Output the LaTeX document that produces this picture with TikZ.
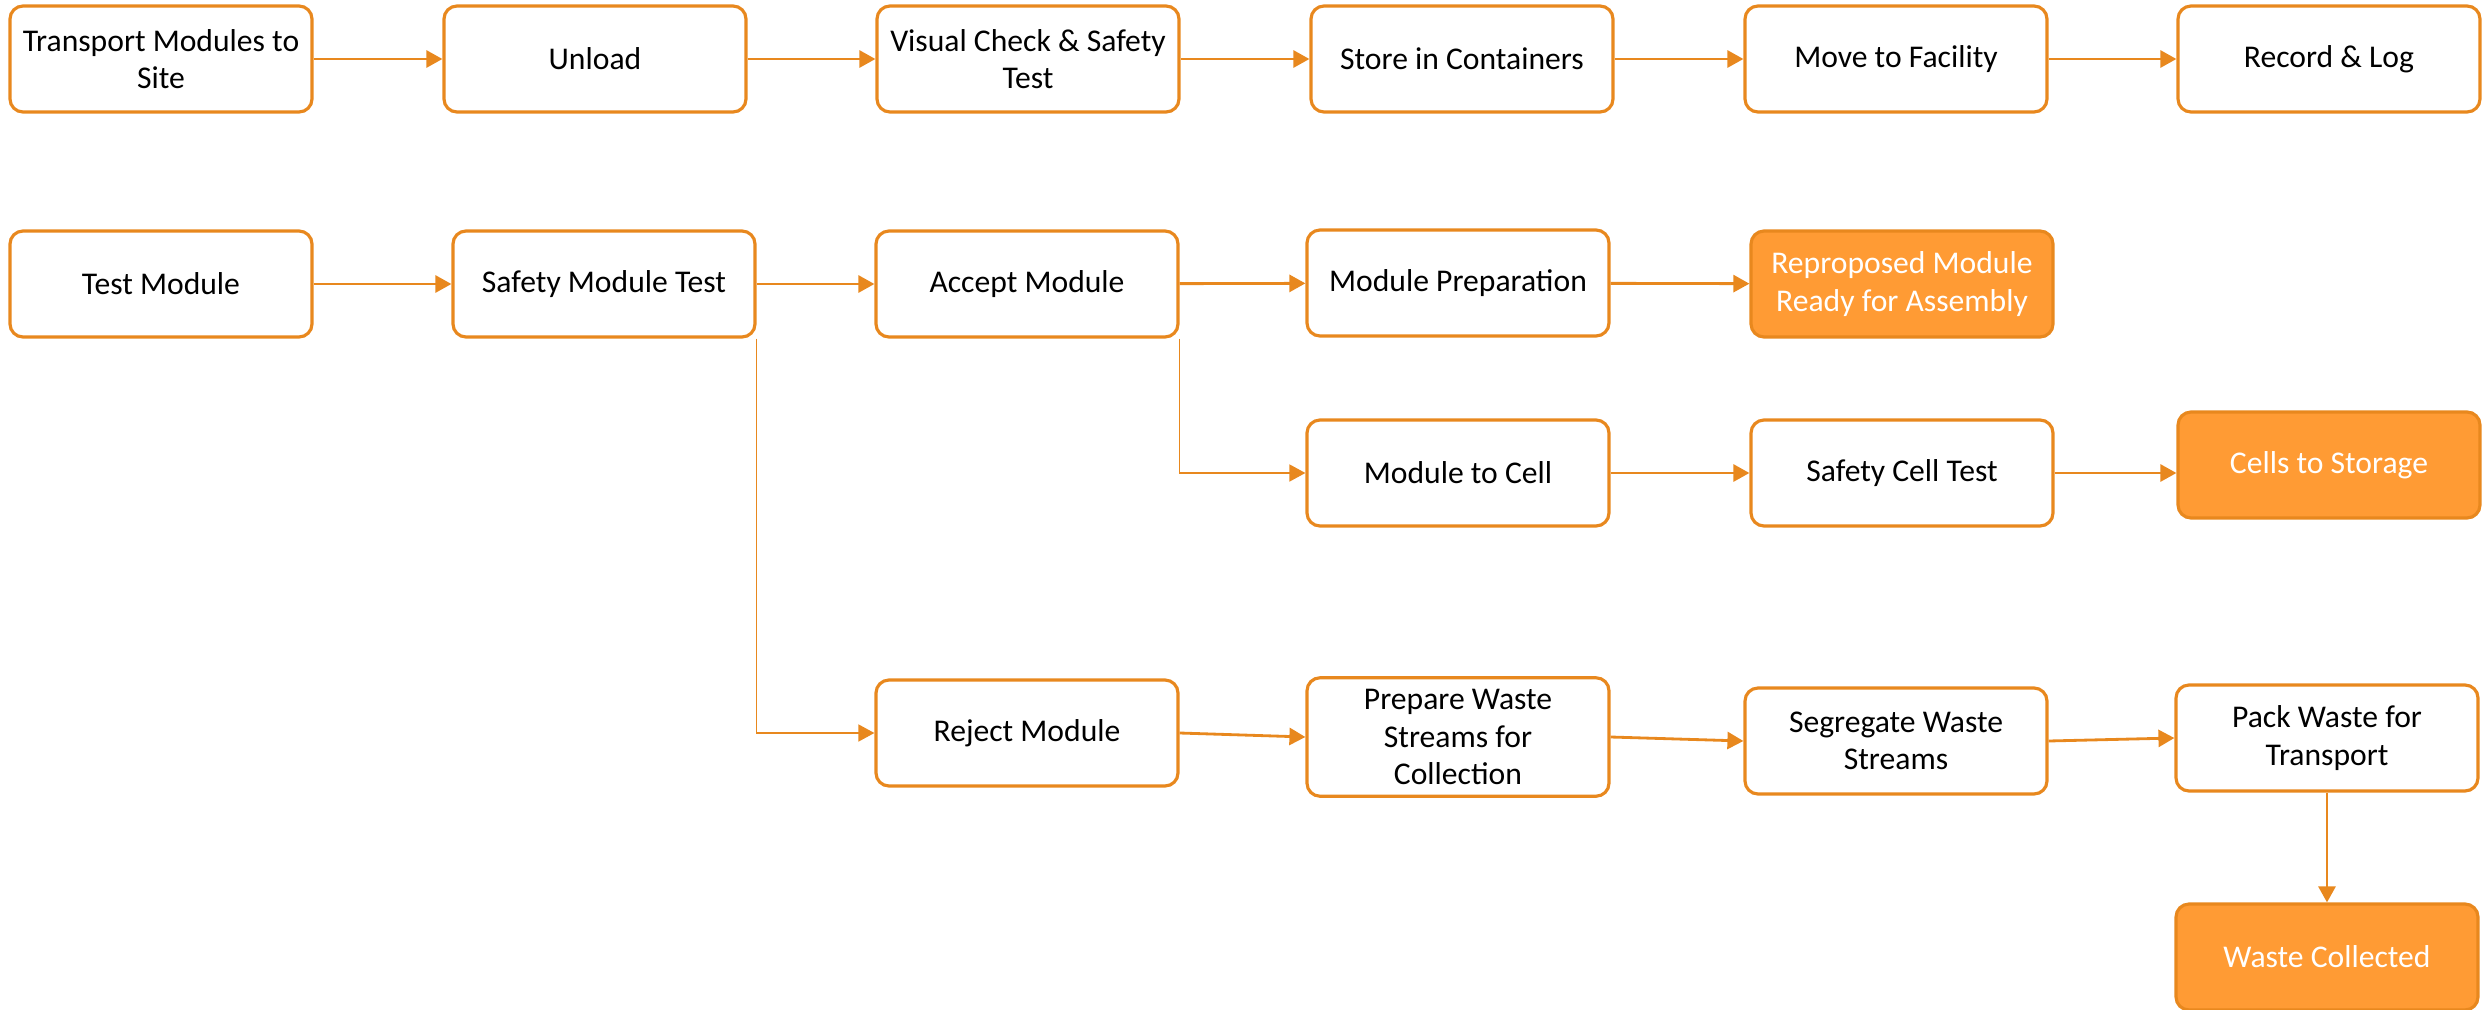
\documentclass[tikz,border=0pt]{standalone}
\usepackage{fontspec}
\setmainfont{Carlito}
\usetikzlibrary{arrows.meta, positioning}
\definecolor{lineorange}{RGB}{232, 136, 30}
\definecolor{fillorange}{RGB}{255, 155, 52}

\begin{document}
\begin{tikzpicture}[
        task/.style={rectangle, draw=lineorange, line width=0.9pt, fill=white, rounded corners=0.13cm, minimum width=3.02cm, minimum height=1.06cm, align=center, font=\fontsize{9}{10.6}\selectfont},
        endtask/.style={task, fill=fillorange, text=white},
        flow/.style={draw=lineorange, line width=0.8pt, -{Triangle[length=0.16cm, width=0.17cm]}},
        branch/.style={flow, line width=0.45pt}
    ]
        \useasboundingbox (0, 0) rectangle (24.84, 10.09);

        % intake row
        \node[task] (transport) at (1.61, 9.50) {Transport Modules to\\Site};
        \node[task] (unload) at (5.95, 9.50) {Unload};
        \node[task] (visual) at (10.28, 9.50) {Visual Check \& Safety\\Test};
        \node[task] (store) at (14.62, 9.50) {Store in Containers};
        \node[task] (move) at (18.96, 9.50) {Move to Facility};
        \node[task] (record) at (23.29, 9.50) {Record \& Log};

        % testing row
        \node[task] (test) at (1.61, 7.25) {Test Module};
        \node[task] (safemod) at (6.04, 7.25) {Safety Module Test};
        \node[task] (accept) at (10.27, 7.25) {Accept Module};
        \node[task] (prep) at (14.58, 7.26) {Module Preparation};
        \node[endtask] (ready) at (19.02, 7.25) {Reproposed Module\\Ready for Assembly};

        \node[task] (tocell) at (14.58, 5.36) {Module to Cell};
        \node[task] (safecell) at (19.02, 5.36) {Safety Cell Test};
        \node[endtask] (storage) at (23.29, 5.44) {Cells to Storage};

        % waste branch
        \node[task] (reject) at (10.27, 2.76) {Reject Module};
        \node[task] (prepwaste) at (14.58, 2.72) {Prepare Waste\\Streams for\\Collection};
        \node[task] (segregate) at (18.96, 2.68) {Segregate Waste\\Streams};
        \node[task] (pack) at (23.27, 2.71) {Pack Waste for\\Transport};
        \node[endtask] (collected) at (23.27, 0.52) {Waste Collected};

        \draw[flow] (transport) -- (unload);
        \draw[flow] (unload) -- (visual);
        \draw[flow] (visual) -- (store);
        \draw[flow] (store) -- (move);
        \draw[flow] (move) -- (record);

        \draw[flow] (test) -- (safemod);
        \draw[flow] (safemod) -- (accept);
        \draw[flow] (accept) -- (prep);
        \draw[flow] (prep) -- (ready);
        \draw[branch] (accept.south east) |- (tocell.west);
        \draw[flow] (tocell) -- (safecell);
        \draw[flow] (safecell.east) -- (safecell.east -| storage.west);

        \draw[branch] (safemod.south east) |- (reject.west);
        \draw[flow] (reject.east) -- (prepwaste.west);
        \draw[flow] (prepwaste.east) -- (segregate.west);
        \draw[flow] (segregate.east) -- (pack.west);
        \draw[flow] (pack) -- (collected);
    \end{tikzpicture}
\end{document}
